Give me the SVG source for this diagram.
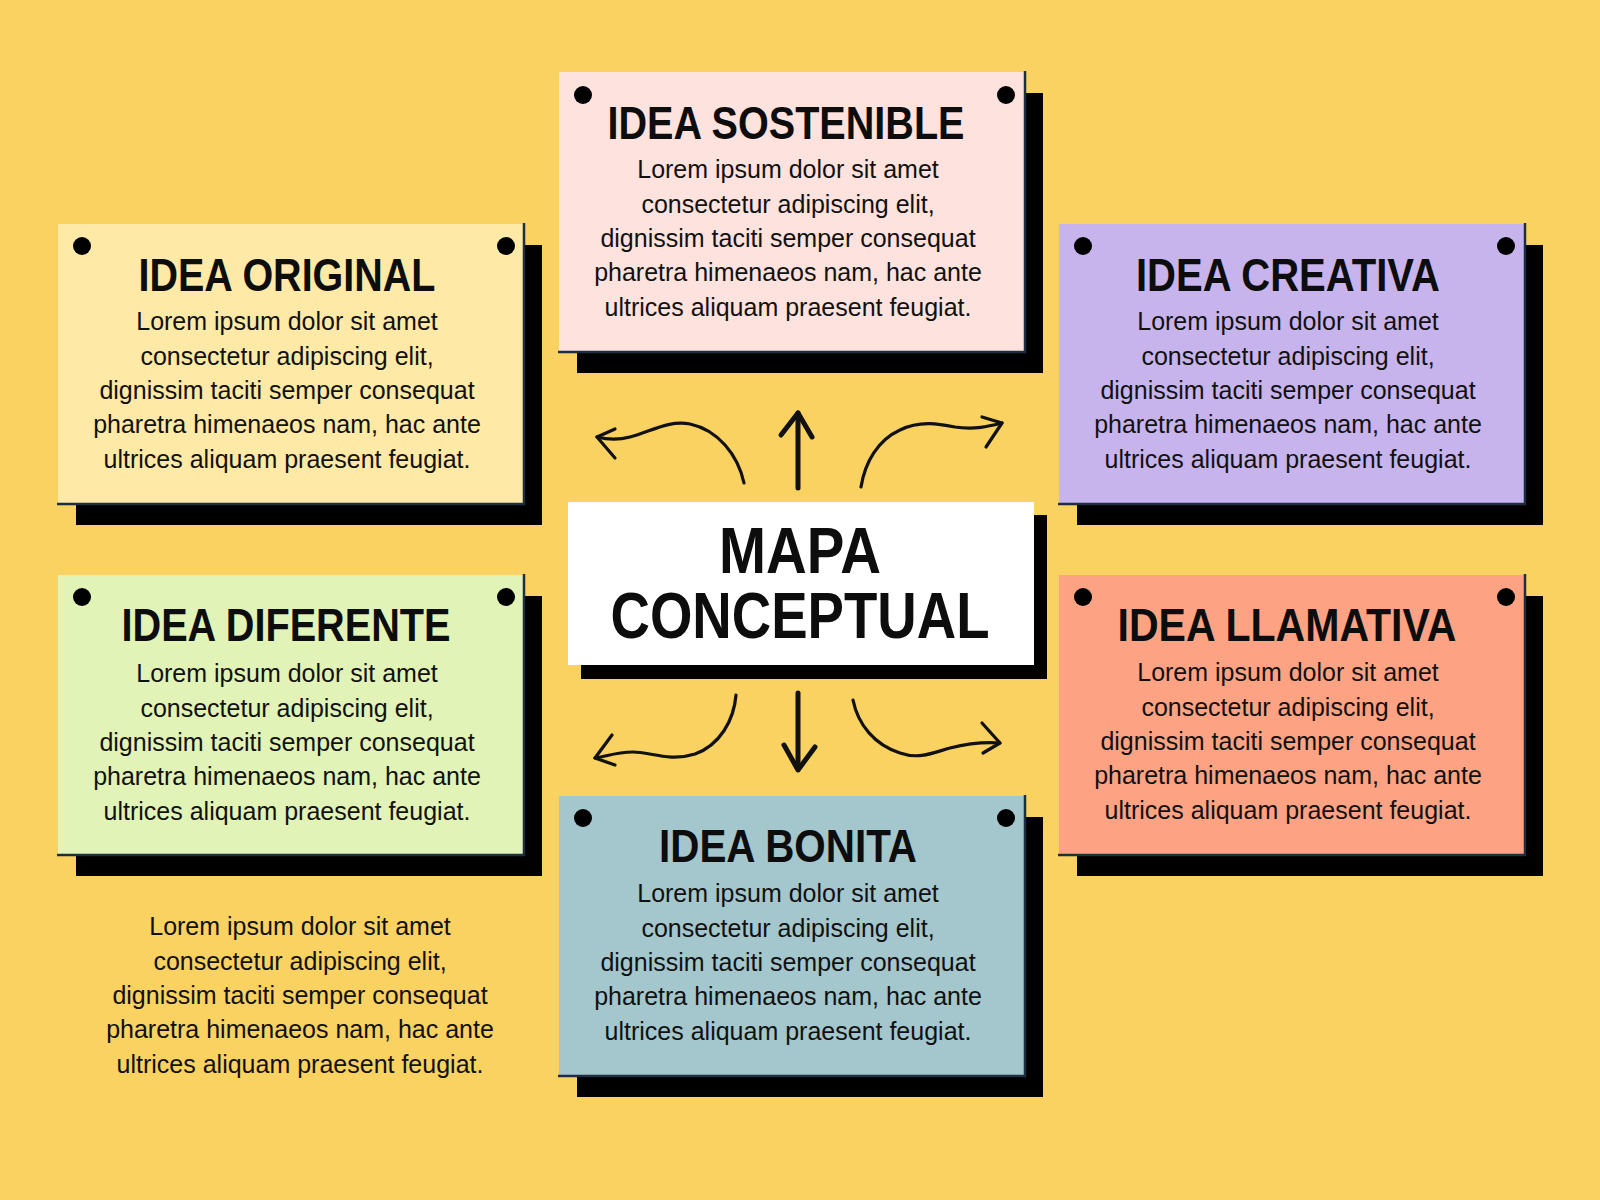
<svg xmlns="http://www.w3.org/2000/svg" width="1600" height="1200" viewBox="0 0 1600 1200">
<style>
.shadow{fill:#000}
.edge{fill:none;stroke:#1c2e40;stroke-width:2.5}
.dot{fill:#000}
.title{font-family:"Liberation Sans",Arial,sans-serif;font-weight:bold;font-size:46px;fill:#0d0d0d;text-anchor:middle}
.body{font-family:"Liberation Sans",Arial,sans-serif;font-size:25px;fill:#111;text-anchor:middle}
.big{font-family:"Liberation Sans",Arial,sans-serif;font-weight:bold;font-size:64px;fill:#0d0d0d;text-anchor:middle}
.arc{fill:none;stroke:#111;stroke-width:3.2;stroke-linecap:round;stroke-linejoin:round}
.straight{fill:none;stroke:#111;stroke-width:5;stroke-linecap:round;stroke-linejoin:round}
</style>
<rect width="1600" height="1200" fill="#FAD262"/>

<g id="connectors">
  <path class="arc" d="M744,483 C738,455 718,430 690,424 C668,420 650,432 630,437 C615,441 605,439 597,437"/>
  <path class="arc" d="M615,429 L597,437 L615,458"/>
  <path class="straight" d="M798,488 L798,413"/>
  <path class="straight" d="M781,435 L798,413 L812,437"/>
  <path class="arc" d="M861,487 C865,462 878,440 900,430 C920,420 940,424 955,427 C975,430 990,426 1002,423"/>
  <path class="arc" d="M982,417 L1002,423 L986,447"/>
  <path class="arc" d="M736,695 C734,720 720,745 695,754 C670,762 650,752 633,752 C615,752 605,757 595,758"/>
  <path class="arc" d="M612,735 L595,758 L615,765"/>
  <path class="straight" d="M798,693 L798,768"/>
  <path class="straight" d="M784,745 L798,770 L815,747"/>
  <path class="arc" d="M853,700 C858,725 875,745 900,753 C920,760 935,752 950,748 C970,743 985,742 1000,743"/>
  <path class="arc" d="M982,723 L1000,743 L983,753"/>
</g>

<g id="center">
  <rect class="shadow" x="581" y="515" width="466" height="164"/>
  <rect x="568" y="502" width="466" height="163" fill="#ffffff"/>
  <text class="big" x="800" y="573" textLength="162" lengthAdjust="spacingAndGlyphs">MAPA</text>
  <text class="big" x="800" y="638" textLength="379" lengthAdjust="spacingAndGlyphs">CONCEPTUAL</text>
</g>

<g id="idea-sostenible">
  <rect class="shadow" x="577" y="93" width="466" height="280"/>
  <rect x="559" y="72" width="466" height="280" fill="#FEE2DD"/>
  <path class="edge" d="M558,352 L1025,352 L1025,71"/>
  <circle class="dot" cx="583" cy="95" r="9"/>
  <circle class="dot" cx="1006" cy="95" r="9"/>
  <text class="title" x="786" y="139" textLength="357" lengthAdjust="spacingAndGlyphs">IDEA SOSTENIBLE</text>
  <text class="body" x="788"><tspan x="788" y="178">Lorem ipsum dolor sit amet</tspan><tspan x="788" y="212.5">consectetur adipiscing elit,</tspan><tspan x="788" y="247">dignissim taciti semper consequat</tspan><tspan x="788" y="281">pharetra himenaeos nam, hac ante</tspan><tspan x="788" y="315.5">ultrices aliquam praesent feugiat.</tspan></text>
</g>

<g id="idea-original">
  <rect class="shadow" x="76" y="245" width="466" height="280"/>
  <rect x="58" y="224" width="466" height="280" fill="#FEE9A6"/>
  <path class="edge" d="M57,504 L524,504 L524,223"/>
  <circle class="dot" cx="82" cy="246" r="9"/>
  <circle class="dot" cx="506" cy="246" r="9"/>
  <text class="title" x="287" y="291" textLength="297" lengthAdjust="spacingAndGlyphs">IDEA ORIGINAL</text>
  <text class="body" x="287"><tspan x="287" y="330">Lorem ipsum dolor sit amet</tspan><tspan x="287" y="364.5">consectetur adipiscing elit,</tspan><tspan x="287" y="399">dignissim taciti semper consequat</tspan><tspan x="287" y="433">pharetra himenaeos nam, hac ante</tspan><tspan x="287" y="467.5">ultrices aliquam praesent feugiat.</tspan></text>
</g>

<g id="idea-creativa">
  <rect class="shadow" x="1077" y="245" width="466" height="280"/>
  <rect x="1059" y="224" width="466" height="280" fill="#C8B4EC"/>
  <path class="edge" d="M1058,504 L1525,504 L1525,223"/>
  <circle class="dot" cx="1083" cy="246" r="9"/>
  <circle class="dot" cx="1506" cy="246" r="9"/>
  <text class="title" x="1288" y="291" textLength="304" lengthAdjust="spacingAndGlyphs">IDEA CREATIVA</text>
  <text class="body" x="1288"><tspan x="1288" y="330">Lorem ipsum dolor sit amet</tspan><tspan x="1288" y="364.5">consectetur adipiscing elit,</tspan><tspan x="1288" y="399">dignissim taciti semper consequat</tspan><tspan x="1288" y="433">pharetra himenaeos nam, hac ante</tspan><tspan x="1288" y="467.5">ultrices aliquam praesent feugiat.</tspan></text>
</g>

<g id="idea-diferente">
  <rect class="shadow" x="76" y="596" width="466" height="280"/>
  <rect x="58" y="575" width="466" height="280" fill="#E2F3B7"/>
  <path class="edge" d="M57,855 L524,855 L524,574"/>
  <circle class="dot" cx="82" cy="597" r="9"/>
  <circle class="dot" cx="506" cy="597" r="9"/>
  <text class="title" x="286" y="641" textLength="329" lengthAdjust="spacingAndGlyphs">IDEA DIFERENTE</text>
  <text class="body" x="287"><tspan x="287" y="682">Lorem ipsum dolor sit amet</tspan><tspan x="287" y="716.5">consectetur adipiscing elit,</tspan><tspan x="287" y="751">dignissim taciti semper consequat</tspan><tspan x="287" y="785">pharetra himenaeos nam, hac ante</tspan><tspan x="287" y="819.5">ultrices aliquam praesent feugiat.</tspan></text>
</g>

<g id="idea-llamativa">
  <rect class="shadow" x="1077" y="596" width="466" height="280"/>
  <rect x="1059" y="575" width="466" height="280" fill="#FDA383"/>
  <path class="edge" d="M1058,855 L1525,855 L1525,574"/>
  <circle class="dot" cx="1083" cy="597" r="9"/>
  <circle class="dot" cx="1506" cy="597" r="9"/>
  <text class="title" x="1287" y="641" textLength="339" lengthAdjust="spacingAndGlyphs">IDEA LLAMATIVA</text>
  <text class="body" x="1288"><tspan x="1288" y="681">Lorem ipsum dolor sit amet</tspan><tspan x="1288" y="715.5">consectetur adipiscing elit,</tspan><tspan x="1288" y="750">dignissim taciti semper consequat</tspan><tspan x="1288" y="784">pharetra himenaeos nam, hac ante</tspan><tspan x="1288" y="818.5">ultrices aliquam praesent feugiat.</tspan></text>
</g>

<g id="idea-bonita">
  <rect class="shadow" x="577" y="817" width="466" height="280"/>
  <rect x="559" y="796" width="466" height="280" fill="#A4C6CD"/>
  <path class="edge" d="M558,1076 L1025,1076 L1025,795"/>
  <circle class="dot" cx="583" cy="818" r="9"/>
  <circle class="dot" cx="1006" cy="818" r="9"/>
  <text class="title" x="788" y="862" textLength="258" lengthAdjust="spacingAndGlyphs">IDEA BONITA</text>
  <text class="body" x="788"><tspan x="788" y="902">Lorem ipsum dolor sit amet</tspan><tspan x="788" y="936.5">consectetur adipiscing elit,</tspan><tspan x="788" y="971">dignissim taciti semper consequat</tspan><tspan x="788" y="1005">pharetra himenaeos nam, hac ante</tspan><tspan x="788" y="1039.5">ultrices aliquam praesent feugiat.</tspan></text>
</g>

<g id="note">
  <text class="body" x="300"><tspan x="300" y="935">Lorem ipsum dolor sit amet</tspan><tspan x="300" y="969.5">consectetur adipiscing elit,</tspan><tspan x="300" y="1004">dignissim taciti semper consequat</tspan><tspan x="300" y="1038">pharetra himenaeos nam, hac ante</tspan><tspan x="300" y="1072.5">ultrices aliquam praesent feugiat.</tspan></text>
</g>
</svg>
